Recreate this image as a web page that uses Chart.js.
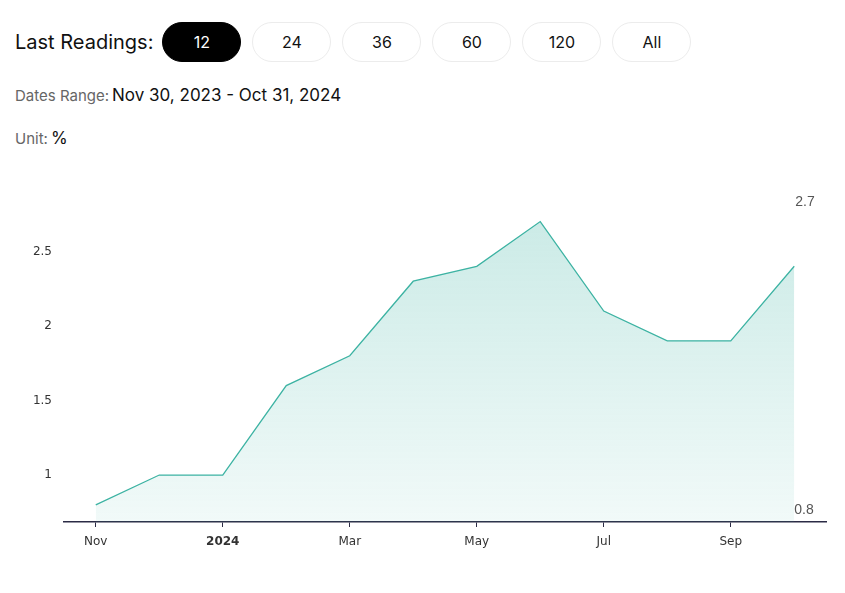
<!DOCTYPE html>
<html>
<head>
<meta charset="utf-8">
<script src="https://cdn.jsdelivr.net/npm/chart.js@4.4.1/dist/chart.umd.min.js"></script>
<style>
    body { margin: 0; background: #fff; font-family: Inter, "Noto Sans", sans-serif; }
    .wrap { position: relative; width: 845px; height: 593px; overflow: hidden; }
    .readings { position: absolute; left: 15px; top: 22px; display: flex; align-items: center; }
    .readings .lbl { font-size: 20px; color: #111; margin-right: 9px; }
    .btn { width: 77px; height: 38px; border: 1px solid #ececec; border-radius: 20px; margin-right: 11px;
           display: flex; align-items: center; justify-content: center; font-size: 16px; color: #111; }
    .btn.active { background: #000; color: #fff; border-color: #000; }
    .meta { position: absolute; left: 15px; font-size: 15px; color: #666; }
    .meta b { font-weight: 400; color: #111; font-size: 17px; margin-left: 3px; }
    #chartBox { position: absolute; left: 0; top: 180px; width: 845px; height: 390px; }
</style>
</head>
<body>
<div class="wrap">
    <div class="readings">
        <span class="lbl">Last Readings:</span>
        <div class="btn active">12</div>
        <div class="btn">24</div>
        <div class="btn">36</div>
        <div class="btn">60</div>
        <div class="btn">120</div>
        <div class="btn">All</div>
    </div>
    <div class="meta" style="top:85px">Dates Range:<b>Nov 30, 2023 - Oct 31, 2024</b></div>
    <div class="meta" style="top:128px">Unit:<b>%</b></div>
    <div id="chartBox"><canvas id="chart"></canvas></div>
</div>
<script>
// datos del gráfico
const months = ['Nov', 'Dec', '2024', 'Feb', 'Mar', 'Apr', 'May', 'Jun', 'Jul', 'Aug', 'Sep', 'Oct'];
const values = [0.8, 1.0, 1.0, 1.6, 1.8, 2.3, 2.4, 2.7, 2.1, 1.9, 1.9, 2.4];
const yTicks = [1, 1.5, 2, 2.5];

const lineColor = '#3db3a3';

// etiquetas max / min a la derecha
const extremesLabel = {
    id: 'extremesLabel',
    afterDatasetsDraw(chart) {
        const { ctx, chartArea } = chart;
        const meta = chart.getDatasetMeta(0);
        const x = meta.data[meta.data.length - 1].x;
        ctx.save();
        ctx.font = '14px "Liberation Sans", Arial, sans-serif';
        ctx.fillStyle = '#555';
        ctx.textAlign = 'left';
        ctx.textBaseline = 'middle';
        ctx.fillText(String(Math.max(...values)), x + 1, chartArea.top + 3);
        ctx.fillText(String(Math.min(...values)), x, chartArea.bottom - 12);
        ctx.restore();
    }
};

new Chart(document.getElementById('chart'), {
    type: 'line',
    data: {
        labels: months,
        datasets: [{
            data: values,
            borderColor: lineColor,
            borderWidth: 1.3,
            tension: 0,
            pointRadius: 0,
            fill: 'start',
            backgroundColor: (c) => {
                const area = c.chart.chartArea;
                if (!area) return 'rgba(61,179,163,0.15)';
                const g = c.chart.ctx.createLinearGradient(0, area.top, 0, area.bottom);
                g.addColorStop(0, 'rgba(61,179,163,0.28)');
                g.addColorStop(1, 'rgba(61,179,163,0.07)');
                return g;
            }
        }]
    },
    options: {
        responsive: true,
        maintainAspectRatio: false,
        animation: false,
        layout: { padding: { top: 11, right: 19, left: 0, bottom: 0 } },
        plugins: { legend: { display: false }, tooltip: { enabled: false } },
        scales: {
            x: {
                offset: true,
                afterFit: (s) => { s.height = 48; },
                grid: { drawOnChartArea: false, drawTicks: true, tickLength: 5, tickColor: '#2b2b45' },
                border: { display: true, color: '#2b2b45', width: 1.5 },
                ticks: {
                    autoSkip: false,
                    maxRotation: 0,
                    padding: 8,
                    color: '#333',
                    font: (c) => ({
                        family: '"DejaVu Sans", Verdana, sans-serif',
                        size: 12,
                        weight: c.tick && c.tick.label === '2024' ? 'bold' : 'normal'
                    }),
                    callback: (v, i) => (i % 2 === 0 ? months[i] : null)
                }
            },
            y: {
                min: 0.685,
                max: 2.85,
                afterFit: (s) => { s.width = 64; },
                afterBuildTicks: (s) => { s.ticks = yTicks.map(v => ({ value: v })); },
                grid: { display: false, drawTicks: false },
                border: { display: false },
                ticks: {
                    padding: 12,
                    color: '#333',
                    font: { family: '"DejaVu Sans", Verdana, sans-serif', size: 12 },
                    callback: (v) => String(v)
                }
            }
        }
    },
    plugins: [extremesLabel]
});
</script>
</body>
</html>
